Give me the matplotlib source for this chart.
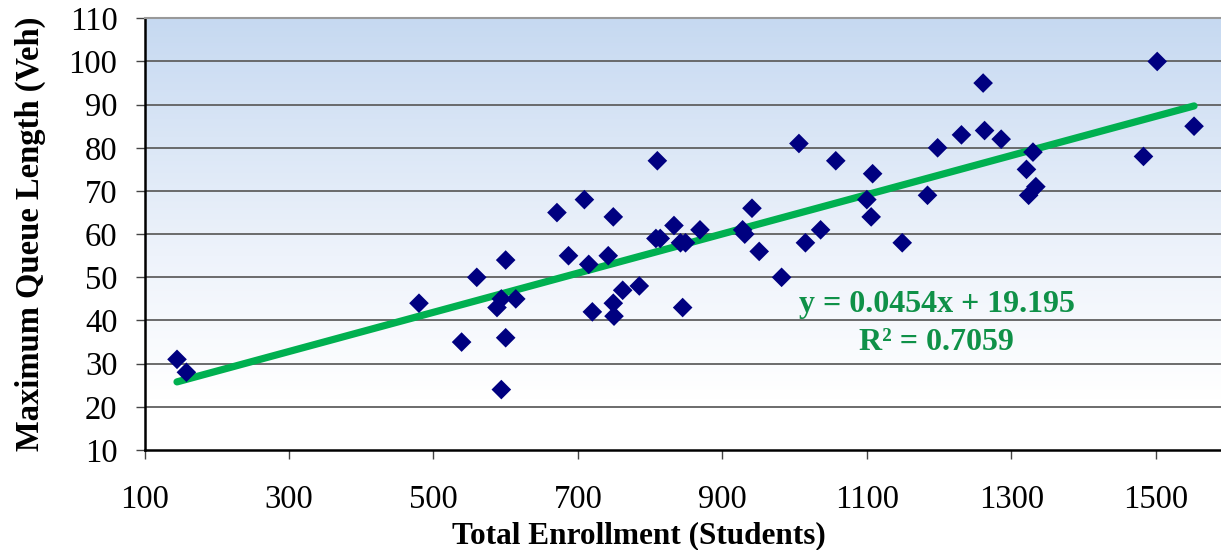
import numpy as np
import matplotlib
matplotlib.use("Agg")
import matplotlib.pyplot as plt
from matplotlib.colors import LinearSegmentedColormap

# Data
enrollment = [145, 158, 480, 539, 560, 588, 594, 594, 600, 600, 614,
              671, 687, 709, 715, 720, 742, 749, 749, 750, 762, 785,
              808, 814, 810, 833, 842, 849, 845, 869, 928, 931, 941, 951,
              982, 1006, 1015, 1036, 1057, 1100, 1106, 1108, 1149, 1184,
              1198, 1231, 1261, 1263, 1286, 1321, 1324, 1330, 1334, 1483,
              1502, 1553]
queue = [31, 28, 44, 35, 50, 43, 45, 24, 54, 36, 45,
         65, 55, 68, 53, 42, 55, 64, 44, 41, 47, 48,
         59, 59, 77, 62, 58, 58, 43, 61, 61, 60, 66, 56,
         50, 81, 58, 61, 77, 68, 64, 74, 58, 69,
         80, 83, 95, 84, 82, 75, 69, 79, 71, 78,
         100, 85]
slope = 0.0454
intercept = 19.195
r_squared = 0.7059

x_ticks = [100, 300, 500, 700, 900, 1100, 1300, 1500]
y_ticks = list(range(10, 111, 10))

plt.rcParams['font.family'] = ['Liberation Serif', 'DejaVu Serif']

fig = plt.figure(figsize=(12.21, 5.5), dpi=100)
ax = fig.add_axes([144.5 / 1221, 1 - 450 / 550, (1228 - 144.5) / 1221, (450 - 18.3) / 550])
ax.set_xlim(100, 1600)
ax.set_ylim(10, 110)

# gradient background
cmap = LinearSegmentedColormap.from_list(
    'bg', [(0.0, '#ffffff'), (0.12, '#ffffff'), (0.45, '#eef3fb'), (1.0, '#c6d9f1')])
grad = np.linspace(0, 1, 256).reshape(-1, 1)
ax.imshow(grad, extent=[0, 1, 0, 1], transform=ax.transAxes, origin='lower',
          cmap=cmap, aspect='auto', zorder=0)

for yv in y_ticks[1:]:
    ax.axhline(yv, color='#606060', lw=1.3, zorder=1)

xs = np.array([min(enrollment), max(enrollment)])
ax.plot(xs, slope * xs + intercept, color='#00b050', lw=5.2,
        solid_capstyle='round', zorder=2)
ax.scatter(enrollment, queue, marker='D', s=100, color='#000080',
           edgecolors='none', zorder=3)

ax.text(1197, 43.6, f'y = {slope}x + {intercept}', color='#0f9148', fontsize=23,
        fontweight='bold', ha='center', va='center', zorder=4)
ax.text(1197, 35.0, f'R² = {r_squared}', color='#0f9148', fontsize=23,
        fontweight='bold', ha='center', va='center', zorder=4)

ax.set_xticks(x_ticks)
ax.set_yticks(y_ticks)
ax.tick_params(axis='both', labelsize=23.5, direction='out', color='#444444')
ax.tick_params(axis='x', length=6.5, width=1, pad=18)
ax.tick_params(axis='y', length=6.5, width=1, pad=13)

for s in ['left', 'bottom']:
    ax.spines[s].set_color('black')
    ax.spines[s].set_linewidth(1.8)
ax.spines['top'].set_color('#999999')
ax.spines['top'].set_linewidth(1.5)
ax.spines['right'].set_visible(False)

ax.set_xlabel('Total Enrollment (Students)', fontsize=22.5, fontweight='bold', labelpad=5)
ax.xaxis.set_label_coords((639 - 144.5) / 1083.5, -0.165)
ax.set_ylabel('Maximum Queue Length (Veh)', fontsize=23.5, fontweight='bold', labelpad=16)

fig.savefig('out.png', dpi=100)
